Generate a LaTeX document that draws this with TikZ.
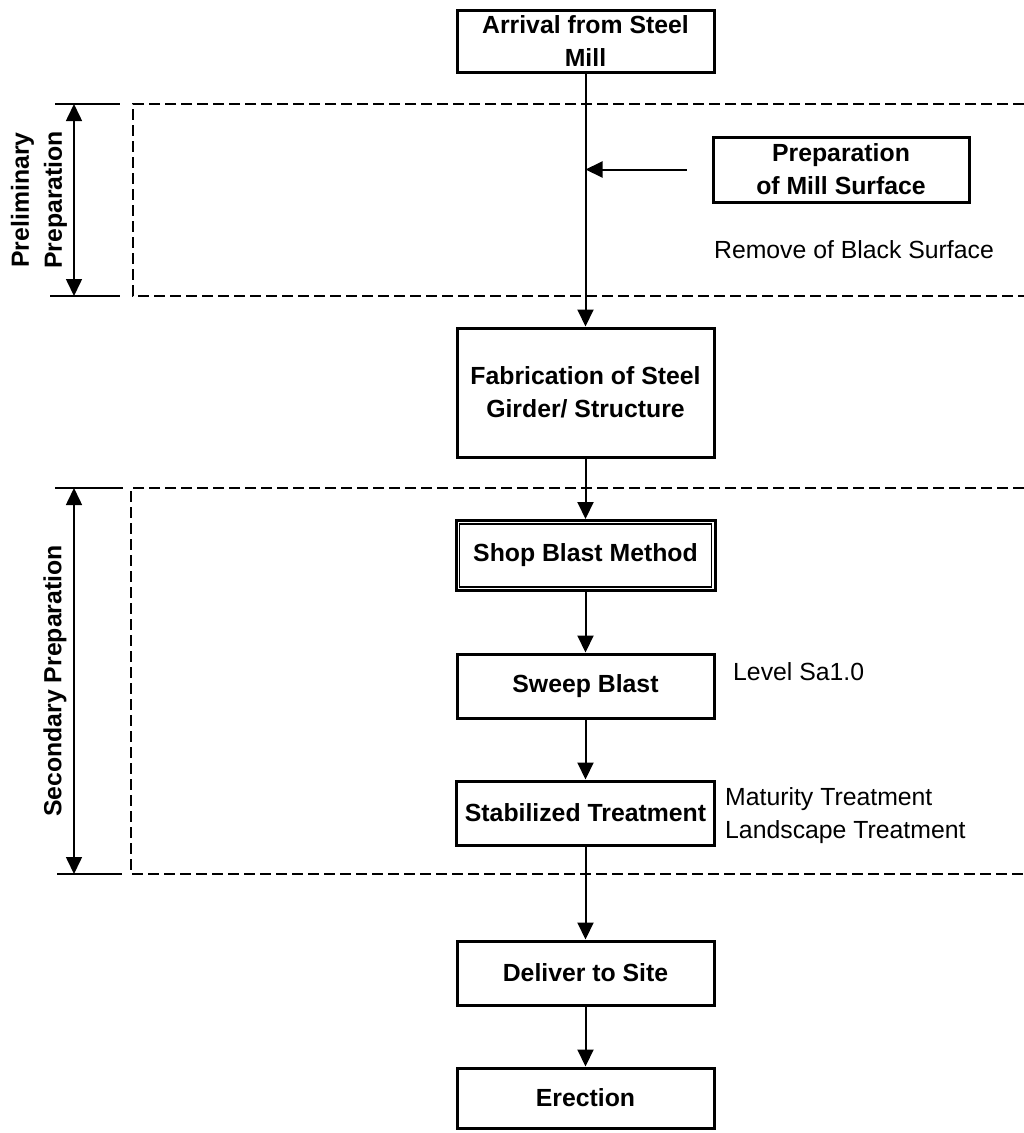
\documentclass[tikz,border=0pt]{standalone}
\usepackage{fontspec}
\setmainfont{Liberation Sans}
\usetikzlibrary{arrows.meta}

\newcommand{\flowfont}{\fontsize{24.8}{33}\selectfont}

\tikzset{
  stepbox/.style={draw, line width=3pt, align=center, inner sep=1pt,
    font=\flowfont\bfseries, minimum width=257pt, minimum height=64pt},
  note/.style={font=\flowfont, align=left, inner sep=0pt},
  flow/.style={line width=2pt, -{Triangle[length=17pt,width=16pt]}},
  frame/.style={line width=2.5pt, dash pattern=on 11pt off 5pt},
  span/.style={line width=1.6pt, {Triangle[length=17pt,width=16pt]}-{Triangle[length=17pt,width=16pt]}},
  tick/.style={line width=1.6pt}
}

\begin{document}
\begin{tikzpicture}[x=1pt,y=-1pt]
    \useasboundingbox (0,0) rectangle (1024,1133);

    % stages
    \node[stepbox, minimum height=62pt] (arrival) at (585.5,41) {Arrival from Steel\\Mill};
    \node[stepbox, minimum width=256pt, minimum height=65pt] (prep) at (841,169.5) {Preparation\\of Mill Surface};
    \node[stepbox, minimum height=129pt] (fab) at (585.5,392.5) {Fabrication of Steel\\Girder/ Structure};
    \node[stepbox, minimum width=259pt, minimum height=70pt] (shop) at (585.5,555.5) {Shop Blast Method};
    \draw[line width=1.6pt] ([shift={(5pt,-5pt)}]shop.north west) rectangle ([shift={(-5pt,5pt)}]shop.south east);
    \node[stepbox] (sweep) at (585.5,686) {Sweep Blast};
    \node[stepbox, minimum width=258pt] (stab) at (585.5,813) {Stabilized Treatment};
    \node[stepbox] (deliver) at (585.5,973) {Deliver to Site};
    \node[stepbox, minimum height=60pt] (erect) at (585.5,1098) {Erection};

    % side notes
    \node[note] (black) at (854,250) {Remove of Black Surface};
    \node[note, anchor=west] (level) at (733,672) {Level Sa1.0};
    \node[note, anchor=west] (cure) at (725,816) {Maturity Treatment\\Landscape Treatment};

    % frames
    \draw[frame] (1024,104) -| (133,296) -- (1024,296);
    \draw[frame] (1024,488) -| (131,874) -- (1024,874);

    % spans
    \coordinate (p1) at (74,104);
    \coordinate (p2) at (74,296);
    \coordinate (s1) at (74,488);
    \coordinate (s2) at (74,874);
    \draw[tick] (55,104) -- (120,104);
    \draw[tick] (50,296) -- (120,296);
    \draw[tick] (55,488) -- (123,488);
    \draw[tick] (57,874) -- (122,874);
    \draw[span] (p1) -- (p2);
    \draw[span] (s1) -- (s2);
    \node[rotate=90, font=\flowfont\bfseries, align=center, inner sep=0pt] (prelim) at (39,200) {Preliminary\\Preparation};
    \node[rotate=90, font=\flowfont\bfseries, inner sep=0pt] (second) at (55,681) {Secondary Preparation};

    % connectors
    \coordinate (tap) at (arrival.south |- prep.west);
    \draw[flow] (arrival) -- (fab);
    \draw[flow] ([xshift=-25pt]prep.west) -- (tap);
    \draw[flow] (fab) -- (shop);
    \draw[flow] (shop) -- (sweep);
    \draw[flow] (sweep) -- (stab);
    \draw[flow] (stab) -- (deliver);
    \draw[flow] (deliver) -- (erect);
\end{tikzpicture}
\end{document}
